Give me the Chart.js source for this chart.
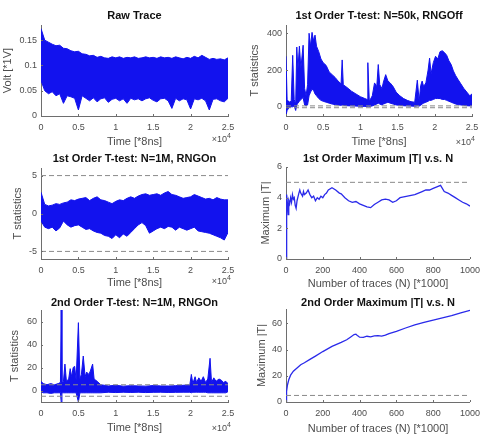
<!DOCTYPE html>
<html>
<head>
<meta charset="utf-8">
<script src="https://cdn.jsdelivr.net/npm/chart.js@4.4.1/dist/chart.umd.min.js"></script>
<style>
  body { margin: 0; background: #fff; }
  #wrap { position: relative; width: 486px; height: 438px; overflow: hidden; }
  #wrap canvas { position: absolute; }
</style>
</head>
<body>
<div id="wrap">
  <canvas id="raw" width="243" height="150" style="left:0;top:0"></canvas>
  <canvas id="off" width="243" height="150" style="left:243px;top:0"></canvas>
  <canvas id="on1" width="243" height="150" style="left:0;top:146px"></canvas>
  <canvas id="max1" width="243" height="150" style="left:243px;top:146px"></canvas>
  <canvas id="on2" width="243" height="150" style="left:0;top:292px"></canvas>
  <canvas id="max2" width="243" height="150" style="left:243px;top:292px"></canvas>
</div>
<script>
// ---- data ----
var timeTicks = [0, 5000, 10000, 15000, 20000, 25000];
var traceTicks = [0, 200, 400, 600, 800, 1000];

// Raw Trace (upper / lower edge of the noisy trace)
var rawTime = [0,500,1000,1500,2000,2500,3000,3500,4000,4500,5000,5500,6000,6500,7000,7500,8000,8500,9000,9500,10000,10500,11000,11500,12000,12500,13000,13500,14000,14500,15000,15500,16000,16500,17000,17500,18000,18500,19000,19500,20000,20500,21000,21500,22000,22500,23000,23500,24000,24500,25000];
var rawUpper = [0.173,0.150,0.146,0.142,0.139,0.140,0.134,0.133,0.129,0.127,0.128,0.123,0.122,0.119,0.120,0.116,0.118,0.115,0.114,0.117,0.115,0.117,0.114,0.116,0.115,0.117,0.114,0.115,0.117,0.115,0.116,0.114,0.117,0.115,0.116,0.114,0.117,0.115,0.113,0.116,0.114,0.118,0.115,0.120,0.116,0.112,0.114,0.112,0.113,0.111,0.115];
var rawLower = [0.070,0.050,0.044,0.048,0.040,0.044,0.025,0.040,0.038,0.035,0.012,0.040,0.035,0.030,0.036,0.028,0.034,0.036,0.027,0.033,0.035,0.030,0.034,0.025,0.035,0.032,0.034,0.030,0.034,0.036,0.031,0.028,0.034,0.035,0.030,0.015,0.035,0.030,0.034,0.032,0.014,0.034,0.032,0.035,0.030,0.012,0.033,0.034,0.030,0.028,0.035];
var rawYTicks = [0, 0.05, 0.1, 0.15];

// 1st order, N=50k, RNG off
var offTime = [0,150,400,700,900,1100,1300,1450,1600,1800,2000,2300,2500,2700,2900,3100,3300,3500,3700,3900,4100,4400,4700,5000,5400,5800,6200,6600,7000,7400,7550,7700,8200,8800,9400,10000,10600,10900,11000,11200,11600,11900,12200,12400,12600,12900,13100,13400,13700,14000,14400,14800,15300,15800,16300,16800,17300,17650,17900,18100,18300,18500,18800,19100,19300,19500,19800,20100,20400,20700,21000,21300,21600,21900,22200,22500,22800,23100,23500,23900,24300,24700,25000];
var offUpper = [275,40,25,30,280,40,15,325,200,330,210,335,100,60,120,400,330,405,360,390,330,300,260,240,225,190,175,160,140,125,255,120,105,85,70,55,45,40,240,30,60,130,110,230,120,100,135,175,140,130,110,80,60,45,35,28,25,145,30,115,140,110,130,200,265,180,240,275,260,300,305,295,280,250,230,195,170,150,125,100,80,60,70];
var offLower = [-45,-20,-5,0,0,5,-20,10,20,30,40,50,10,5,10,60,80,95,90,70,60,45,35,30,25,20,15,12,10,8,10,8,6,5,4,3,2,2,5,2,5,10,15,20,15,10,15,20,25,20,15,10,8,6,5,4,3,5,4,8,15,20,25,30,35,35,40,45,45,45,40,40,35,30,25,20,15,12,10,8,6,5,5];
var offYTicks = [0, 200, 400];

// 1st order, N=1M, RNG on (same time grid as the raw trace)
var on1Upper = [2.8,1.2,1.0,1.1,1.3,1.2,1.4,1.5,1.8,1.7,1.9,2.0,2.1,1.7,2.0,2.2,1.8,1.7,1.5,1.3,1.6,1.8,1.7,2.0,2.2,2.0,2.3,2.5,2.6,2.4,2.5,2.6,2.4,2.7,2.9,2.5,2.4,2.2,2.0,2.1,2.2,2.5,2.3,2.1,1.9,2.0,1.8,2.1,1.9,1.8,1.8];
var on1Lower = [-1.0,-1.8,-2.0,-1.8,-2.3,-1.9,-1.0,-1.5,-1.8,-1.6,-1.5,-1.8,-2.1,-2.0,-2.3,-2.5,-2.6,-2.9,-3.0,-3.3,-2.8,-3.2,-2.7,-3.0,-2.5,-2.0,-1.5,-1.2,-1.6,-2.6,-2.3,-2.0,-1.8,-2.0,-1.7,-1.8,-2.2,-1.8,-2.0,-2.2,-2.0,-1.8,-2.3,-2.4,-2.5,-2.6,-2.8,-3.0,-3.2,-3.5,-2.5];
var on1YTicks = [-5, 0, 5];

// 1st order maximum |T| vs N
var max1N = [0,2,5,8,12,15,20,25,30,35,40,45,50,55,60,70,75,80,90,95,100,110,120,130,140,150,160,170,180,190,200,210,220,230,250,270,290,300,320,340,360,380,400,420,440,460,480,500,520,540,560,580,600,620,640,660,680,700,720,740,760,780,800,820,840,860,880,900,920,940,960,980,1000];
var max1T = [0,2.5,4.2,3.6,2.9,3.8,3.6,4.0,3.7,4.2,3.9,4.0,3.5,3.3,3.8,4.3,4.5,4.3,4.1,4.4,4.2,4.3,4.5,4.2,4.0,4.1,3.8,4.0,3.9,4.1,4.0,4.2,4.3,4.5,4.65,4.5,4.3,4.25,4.0,3.8,3.7,3.75,3.6,3.5,3.4,3.35,3.55,3.7,3.85,3.9,3.85,3.7,3.8,4.0,4.05,4.1,4.15,4.2,4.3,4.4,4.5,4.5,4.6,4.7,4.8,4.4,4.3,4.15,4.0,3.85,3.7,3.6,3.45];
var max1YTicks = [0, 2, 4, 6];

// 2nd order, N=1M, RNG on
var on2Time = [0,300,800,1300,1800,2300,2600,2700,2800,3000,3200,3400,3700,3900,4100,4300,4500,4700,5000,5200,5400,5650,5900,6100,6400,6600,6900,7100,7500,8000,9000,10000,11000,12000,13000,14000,15000,16000,17000,18000,19000,19900,20100,20300,20600,20800,21100,21400,21700,22000,22300,22600,22800,23100,23400,23800,24100,24400,24700,25000];
var on2Upper = [8,6,5,6,5,6,7,70,6,8,23,8,10,19,12,20,21,9,59,10,14,30,12,16,14,17,23,10,8,5,4,4.5,3.8,4.2,4,3.8,4.3,4,3.9,4.2,4.5,5,14,6,12,7,11,8,12,7,10,28,7,11,8,10,9,7,8,6];
var on2Lower = [-1,-2,-2,-2.5,-2,-2,-2,-10,-2,-2,-2,-2,-2,-2,-2,-2,-2,-2,-10,-2,-2,-2,-2,-2,-2,-2,-2,-2,-2,-2,-1.5,-1.8,-1.5,-1.7,-1.5,-1.8,-1.6,-1.5,-1.7,-1.6,-1.5,-1.5,-2,-1.5,-1.5,-1.5,-1.5,-1.5,-1.5,-1.5,-2,-2,-2,-2,-2,-2,-2,-2,-2,-1];
var on2YTicks = [0, 20, 40, 60];

// 2nd order maximum |T| vs N
var max2N = [0,3,8,15,25,40,60,80,100,130,160,200,250,300,330,350,370,380,390,400,420,440,460,480,500,520,540,560,600,650,700,750,800,850,900,950,1000];
var max2T = [0,8,13,17,20.5,23.5,26,28.5,30,32.5,35,38.5,42.5,45.5,47.5,49.5,51.5,51.8,50.5,49.5,49.3,50.2,49.8,50.5,50.6,50.3,51,52.2,54,56.5,58.8,60.8,62.5,64.2,66,68,70];
var max2YTicks = [0, 20, 40, 60];

var threshold = 5;

// ---- styling ----
var BLUE = '#1212ee';
var LINE_BLUE = '#2a2aea';
var AXIS = '#6e6e6e';
var TEXT = '#4d4d4d';
Chart.defaults.font.family = '"Liberation Sans", Arial, Helvetica, sans-serif';
Chart.defaults.color = TEXT;

var timeFmt = function (v) { return String(+(v / 10000).toFixed(2)); };
var plainFmt = function (v) { return String(v); };

// inward ticks, bold title, x10^4 note
var matlabLook = {
	id: 'matlabLook',
	afterDraw: function (chart, args, o) {
		var ctx = chart.ctx, a = chart.chartArea;
		var xs = chart.scales.x, ys = chart.scales.y;
		ctx.save();
		ctx.strokeStyle = AXIS;
		ctx.lineWidth = 1;
		ctx.beginPath();
		xs.ticks.forEach(function (t) {
			var px = Math.round(xs.getPixelForValue(t.value)) + 0.5;
			ctx.moveTo(px, a.bottom);
			ctx.lineTo(px, a.bottom - 2);
		});
		ys.ticks.forEach(function (t) {
			var py = Math.round(ys.getPixelForValue(t.value)) + 0.5;
			ctx.moveTo(a.left, py);
			ctx.lineTo(a.left + 2, py);
		});
		ctx.stroke();

		ctx.fillStyle = '#111';
		ctx.font = 'bold 11px "Liberation Sans", Arial, sans-serif';
		ctx.textAlign = 'center';
		ctx.textBaseline = 'middle';
		ctx.fillText(o.text, (a.left + a.right) / 2, a.top - o.gap);

		if (o.exp) {
			ctx.fillStyle = TEXT;
			ctx.textAlign = 'right';
			ctx.textBaseline = 'alphabetic';
			ctx.font = '7px "Liberation Sans", Arial, sans-serif';
			var w4 = ctx.measureText('4').width;
			ctx.fillText('4', a.right + 3, a.bottom + o.exp - 4);
			ctx.font = '9px "Liberation Sans", Arial, sans-serif';
			ctx.fillText('\u00d710', a.right + 3 - w4, a.bottom + o.exp);
		}
		ctx.restore();
	}
};

function band(xs, hi, lo) {
	return [
		{ data: xs.map(function (x, i) { return { x: x, y: hi[i] }; }), borderColor: BLUE, backgroundColor: BLUE, borderWidth: 1, pointRadius: 0, fill: '+1', order: 2 },
		{ data: xs.map(function (x, i) { return { x: x, y: lo[i] }; }), borderColor: BLUE, borderWidth: 1, pointRadius: 0, fill: false, order: 2 }
	];
}

function line(xs, ys) {
	return { data: xs.map(function (x, i) { return { x: x, y: ys[i] }; }), borderColor: LINE_BLUE, borderWidth: 1.3, pointRadius: 0, fill: false, order: 2 };
}

function hline(x0, x1, v) {
	return { data: [{ x: x0, y: v }, { x: x1, y: v }], borderColor: '#8a8a8a', borderDash: [5, 3], borderWidth: 1, pointRadius: 0, fill: false, order: 1 };
}

function makePanel(id, p) {
	var ctx = document.getElementById(id).getContext('2d');
	return new Chart(ctx, {
		type: 'line',
		data: { datasets: p.datasets },
		options: {
			responsive: false,
			animation: false,
			events: [],
			layout: { padding: { left: 0, right: 243 - p.area[1], top: p.area[2], bottom: 0 } },
			plugins: {
				legend: { display: false },
				tooltip: { enabled: false },
				matlabLook: { text: p.title, gap: p.gap, exp: p.exp }
			},
			scales: {
				x: {
					type: 'linear', min: p.xRange[0], max: p.xRange[1],
					grid: { display: false, drawTicks: false },
					border: { display: true, color: AXIS },
					ticks: { padding: 6, font: { size: 9 }, maxRotation: 0, autoSkip: false, callback: p.xFmt },
					afterBuildTicks: function (s) { s.ticks = p.xTicks.map(function (v) { return { value: v }; }); },
					afterFit: function (s) { s.height = 150 - p.area[3]; },
					title: { display: true, text: p.xLabel, font: { size: 11 }, padding: { top: 0, bottom: p.xPad } }
				},
				y: {
					type: 'linear', min: p.yRange[0], max: p.yRange[1],
					grid: { display: false, drawTicks: false },
					border: { display: true, color: AXIS },
					ticks: { padding: 4, font: { size: 9 }, callback: plainFmt },
					afterBuildTicks: function (s) { s.ticks = p.yTicks.map(function (v) { return { value: v }; }); },
					afterFit: function (s) { s.width = p.area[0]; },
					title: { display: true, text: p.yLabel, font: { size: 11 }, padding: { top: p.yPad, bottom: 0 } }
				}
			}
		},
		plugins: [matlabLook]
	});
}

makePanel('raw', {
	title: 'Raw Trace', gap: 9, exp: 26,
	area: [41, 228, 25, 116],
	xRange: [0, 25000], xTicks: timeTicks, xFmt: timeFmt, xLabel: 'Time [*8ns]', xPad: 1.4,
	yRange: [0, 0.18], yTicks: rawYTicks, yLabel: 'Volt [*1V]', yPad: 1.4,
	datasets: band(rawTime, rawUpper, rawLower)
});

makePanel('off', {
	title: '1st Order T-test: N=50k, RNGOff', gap: 9, exp: 29,
	area: [43, 229, 25, 116],
	xRange: [0, 25000], xTicks: timeTicks, xFmt: timeFmt, xLabel: 'Time [*8ns]', xPad: 1.4,
	yRange: [-50, 445], yTicks: offYTicks, yLabel: 'T statistics', yPad: 5.4,
	datasets: band(offTime, offUpper, offLower).concat([hline(0, 25000, threshold), hline(0, 25000, -threshold)])
});

makePanel('on1', {
	title: '1st Order T-test: N=1M, RNGOn', gap: 9, exp: 25,
	area: [41, 228, 22, 113],
	xRange: [0, 25000], xTicks: timeTicks, xFmt: timeFmt, xLabel: 'Time [*8ns]', xPad: 6.4,
	yRange: [-6, 6], yTicks: on1YTicks, yLabel: 'T statistics', yPad: 11.4,
	datasets: band(rawTime, on1Upper, on1Lower).concat([hline(0, 25000, threshold), hline(0, 25000, -threshold)])
});

makePanel('max1', {
	title: '1st Order Maximum |T| v.s. N', gap: 8, exp: 0,
	area: [43, 230, 21, 113],
	xRange: [0, 1000], xTicks: traceTicks, xFmt: plainFmt, xLabel: 'Number of traces (N) [*1000]', xPad: 5.4,
	yRange: [0, 6], yTicks: max1YTicks, yLabel: 'Maximum |T|', yPad: 16.4,
	datasets: [line(max1N, max1T), hline(0, 1000, threshold)]
});

makePanel('on2', {
	title: '2nd Order T-test: N=1M, RNGOn', gap: 7, exp: 29,
	area: [41, 228, 18, 110],
	xRange: [0, 25000], xTicks: timeTicks, xFmt: timeFmt, xLabel: 'Time [*8ns]', xPad: 7.4,
	yRange: [-10, 70], yTicks: on2YTicks, yLabel: 'T statistics', yPad: 8.4,
	datasets: band(on2Time, on2Upper, on2Lower).concat([hline(0, 25000, threshold), hline(0, 25000, -threshold)])
});

makePanel('max2', {
	title: '2nd Order Maximum |T| v.s. N', gap: 6, exp: 0,
	area: [43, 230, 17, 110],
	xRange: [0, 1000], xTicks: traceTicks, xFmt: plainFmt, xLabel: 'Number of traces (N) [*1000]', xPad: 6.4,
	yRange: [0, 71], yTicks: max2YTicks, yLabel: 'Maximum |T|', yPad: 12.4,
	datasets: [line(max2N, max2T), hline(0, 1000, threshold)]
});
</script>
</body>
</html>
